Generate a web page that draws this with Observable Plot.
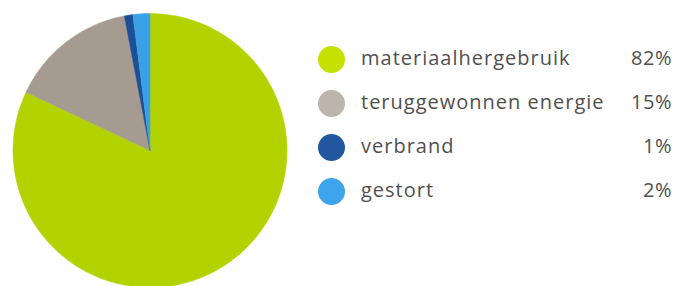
<!DOCTYPE html>
<html>
<head>
<meta charset="utf-8">
<script src="https://cdn.jsdelivr.net/npm/d3@7"></script>
<script src="https://cdn.jsdelivr.net/npm/@observablehq/plot@0.6"></script>
<style>
  html, body { margin: 0; padding: 0; background: #fff; }
  #wrap { position: relative; width: 677px; height: 286px; overflow: hidden; }
  #legend { position: absolute; left: 318px; top: 37px; width: 354px;
    font-family: "Open Sans", sans-serif; font-size: 20px; color: #505050; letter-spacing: 1px; }
  .row { display: flex; align-items: center; height: 44px; }
  .sw { width: 27px; height: 27px; border-radius: 50%; flex: none; margin-right: 16px; }
  .lab { flex: 1; white-space: nowrap; position: relative; top: -2px; }
  .pct { text-align: right; white-space: nowrap; position: relative; top: -2px; letter-spacing: 0.5px; }
</style>
</head>
<body>
<div id="wrap"></div>
<script>
const categories = ["materiaalhergebruik", "teruggewonnen energie", "verbrand", "gestort"];
const values = [82, 15, 1, 2];
const labels = ["82%", "15%", "1%", "2%"];
const pieColors = ["#b3d300", "#a59b91", "#1c4f95", "#3aa1e6"];
const legendColors = ["#c6e000", "#bdb4ab", "#2257a0", "#3ea5ec"];

const data = categories.map((name, i) => ({name, value: values[i]}));
const arcs = d3.pie().sort(null).value(d => d.value)(data);

// Build slice outlines (center + arc samples) in unit-circle data space
const pts = [];
for (const a of arcs) {
  const n = Math.max(2, Math.ceil((a.endAngle - a.startAngle) / (Math.PI / 360)));
  pts.push({name: a.data.name, x: 0, y: 0});
  for (let k = 0; k <= n; k++) {
    const t = a.startAngle + (a.endAngle - a.startAngle) * k / n;
    pts.push({name: a.data.name, x: Math.sin(t), y: Math.cos(t)});
  }
  pts.push({name: a.data.name, x: 0, y: 0});
}

const cx = 149.5, cy = 150, r = 137;
const chart = Plot.plot({
  width: 677,
  height: 286,
  margin: 0,
  x: {domain: [-1, 1], range: [cx - r, cx + r], axis: null},
  y: {domain: [-1, 1], range: [cy + r, cy - r], axis: null},
  color: {domain: categories, range: pieColors},
  marks: [
    Plot.line(pts, {x: "x", y: "y", z: "name", fill: "name", stroke: "name", strokeWidth: 0.5, curve: "linear-closed"})
  ]
});
const wrap = document.getElementById("wrap");
wrap.appendChild(chart);

const legend = document.createElement("div");
legend.id = "legend";
categories.forEach((c, i) => {
  const row = document.createElement("div");
  row.className = "row";
  row.innerHTML = `<span class="sw" style="background:${legendColors[i]}"></span><span class="lab">${c}</span><span class="pct">${labels[i]}</span>`;
  legend.appendChild(row);
});
wrap.appendChild(legend);
</script>
</body>
</html>
